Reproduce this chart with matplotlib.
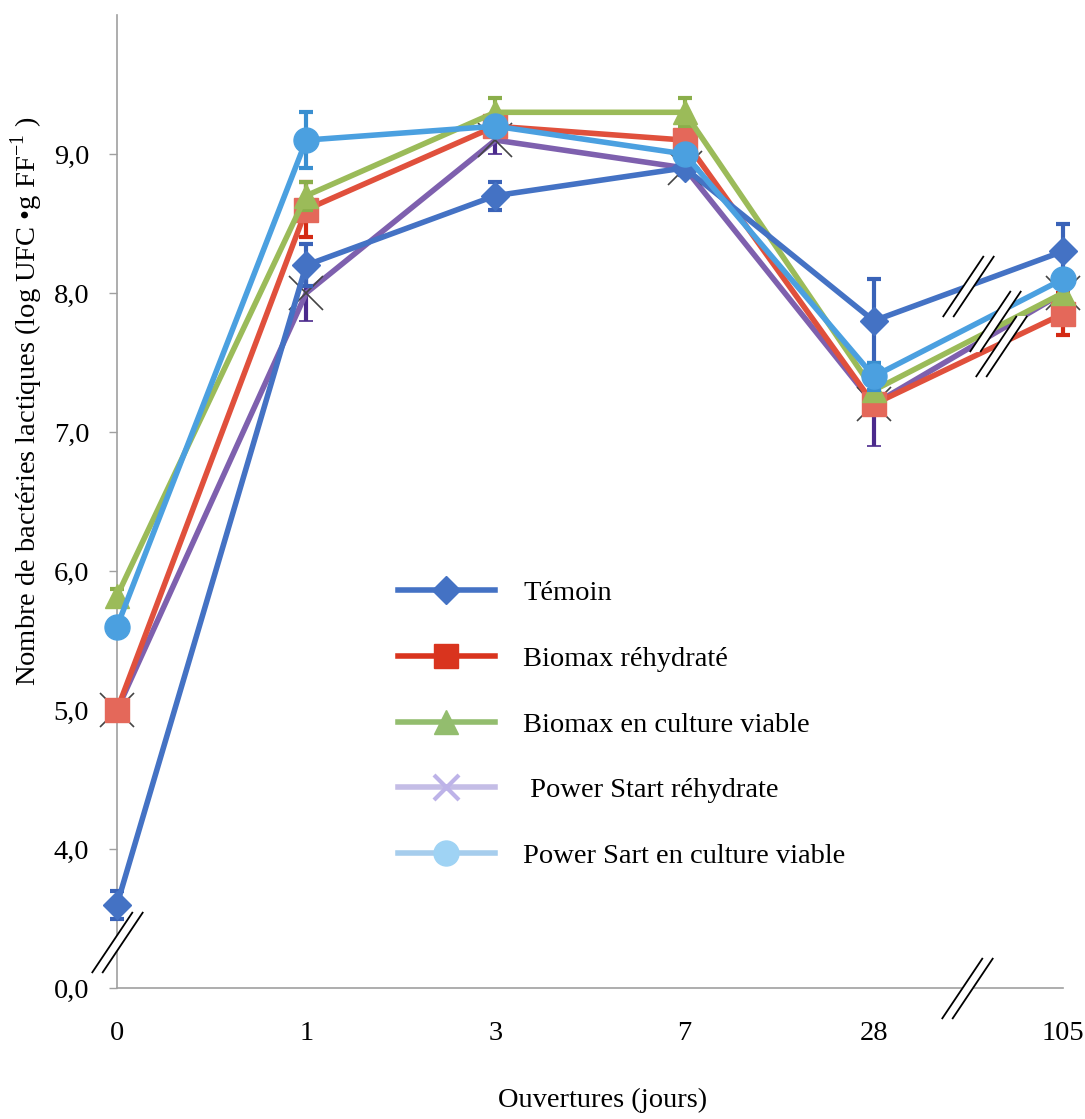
import matplotlib
matplotlib.use("Agg")
import matplotlib.pyplot as plt
from matplotlib.lines import Line2D
from matplotlib.path import Path
import numpy as np

#FONTS
plt.rcParams["font.family"] = ["Liberation Serif", "DejaVu Serif"]
plt.rcParams["mathtext.fontset"] = "custom"
plt.rcParams["mathtext.rm"] = "Liberation Serif"

#DATA (y axis is broken: position 3 carries the label "0,0")
jours = ["0", "1", "3", "7", "28", "105"]
y_ticks = [3, 4, 5, 6, 7, 8, 9]
y_labels = ["0,0", "4,0", "5,0", "6,0", "7,0", "8,0", "9,0"]

temoin = [3.6, 8.2, 8.7, 8.9, 7.8, 8.3]
temoin_err = [0.1, 0.15, 0.1, 0.05, 0.3, 0.2]
biomax_rehyd = [5.0, 8.6, 9.2, 9.1, 7.2, 7.85]
biomax_rehyd_err = [0.05, 0.2, 0.05, 0.05, 0.05, 0.15]
biomax_cult = [5.82, 8.7, 9.3, 9.3, 7.3, 8.0]
biomax_cult_err = [0.05, 0.1, 0.1, 0.1, 0.05, 0.05]
power_rehyd = [5.0, 8.0, 9.1, 8.9, 7.2, 8.0]
power_rehyd_err = [0.05, 0.2, 0.1, 0.05, 0.3, 0.05]
power_cult = [5.6, 9.1, 9.2, 9.0, 7.4, 8.1]
power_cult_err = [0.05, 0.2, 0.05, 0.05, 0.1, 0.05]

labels = ["Témoin", "Biomax réhydraté", "Biomax en culture viable",
          " Power Start réhydrate", "Power Sart en culture viable"]

#break marks (x in category units, y in axis units)
brk_x = [0, 4.49, 4.5, 4.64, 4.67]
brk_y = [3.33, 3.0, 8.05, 7.8, 7.62]

x = np.arange(len(jours))
fs = 20.5

#FIGURE
fig = plt.figure(figsize=(10.85, 11.19), dpi=100)
ax = fig.add_axes([117/1085, 1-988/1119, (1063-117)/1085, (988-15)/1119])

def serie(y, err, marker, ms, col, ecol, z, **kw):
    ax.errorbar(x, y, yerr=err, fmt="-", marker=marker, ms=ms, color=col,
                ecolor=ecol, elinewidth=3, capsize=5, capthick=3, lw=4,
                clip_on=False, zorder=z, **kw)

serie(power_rehyd, power_rehyd_err, "x", 24, "#7E60AE", "#4B2A8C", 3,
      mec="#444444", mew=1.2)
serie(biomax_rehyd, biomax_rehyd_err, "s", 17, "#E0503C", "#D42A14", 4,
      mfc="#E4685A", mec="#E4685A")
serie(biomax_cult, biomax_cult_err, "^", 17, "#9BBB59", "#8AAE4A", 5)
serie(temoin, temoin_err, "D", 14, "#4472C4", "#3A63B8", 6)
serie(power_cult, power_cult_err, "o", 18, "#4BA0E0", "#3A8FD0", 7)

#double slash break marks
slash_lines = Path([(-0.42, -0.5), (0.25, 0.5), (-0.25, -0.5), (0.42, 0.5)],
                   [Path.MOVETO, Path.LINETO, Path.MOVETO, Path.LINETO])
slash_fill = Path([(-0.42, -0.5), (-0.25, -0.5), (0.42, 0.5), (0.25, 0.5), (-0.42, -0.5)],
                  [Path.MOVETO, Path.LINETO, Path.LINETO, Path.LINETO, Path.CLOSEPOLY])
ax.plot(brk_x, brk_y, ls="none", marker=slash_fill, ms=44, mfc="white",
        mew=0, clip_on=False, zorder=10)
ax.plot(brk_x, brk_y, ls="none", marker=slash_lines, ms=44, mfc="none",
        mec="black", mew=1.3, clip_on=False, zorder=11)

#AXES
ax.set_xlim(0, 5)
ax.set_ylim(3, 10)
ax.set_xticks(x)
ax.set_xticklabels(jours)
ax.set_yticks(y_ticks)
ax.set_yticklabels(y_labels)
ax.tick_params(axis="x", length=0, pad=24, labelsize=fs)
ax.tick_params(axis="y", length=6, width=1, color="#A0A0A0", pad=14, labelsize=fs)
for s in ["top", "right"]:
    ax.spines[s].set_visible(False)
for s in ["left", "bottom"]:
    ax.spines[s].set_color("#A0A0A0")
    ax.spines[s].set_linewidth(1.2)

ax.set_xlabel("Ouvertures (jours)", fontsize=fs)
ax.xaxis.set_label_coords(0.513, -0.103)
ax.set_ylabel("Nombre de bactéries lactiques (log UFC •g FF$^{\\mathrm{-1}}$ )", fontsize=fs)
ax.yaxis.set_label_coords(-0.076, 0.603)

#LEGEND
handles = [
    Line2D([], [], color="#4472C4", lw=4, marker="D", ms=14),
    Line2D([], [], color="#D9341E", lw=4, marker="s", ms=17),
    Line2D([], [], color="#93BD6E", lw=4, marker="^", ms=17),
    Line2D([], [], color="#C4BDE6", lw=4, marker="x", ms=18, mew=3, mec="#BDB3E8"),
    Line2D([], [], color="#A6CDED", lw=4, marker="o", ms=18, mfc="#9FD3F4", mec="#9FD3F4"),
]
fig.legend(handles, labels, loc="upper left", bbox_to_anchor=(398/1085, 1-580/1119),
           bbox_transform=fig.transFigure, frameon=False, fontsize=fs,
           handlelength=3.4, handletextpad=1.0, labelspacing=1.4, borderpad=0,
           borderaxespad=0)

fig.savefig("out.png", dpi=100)
